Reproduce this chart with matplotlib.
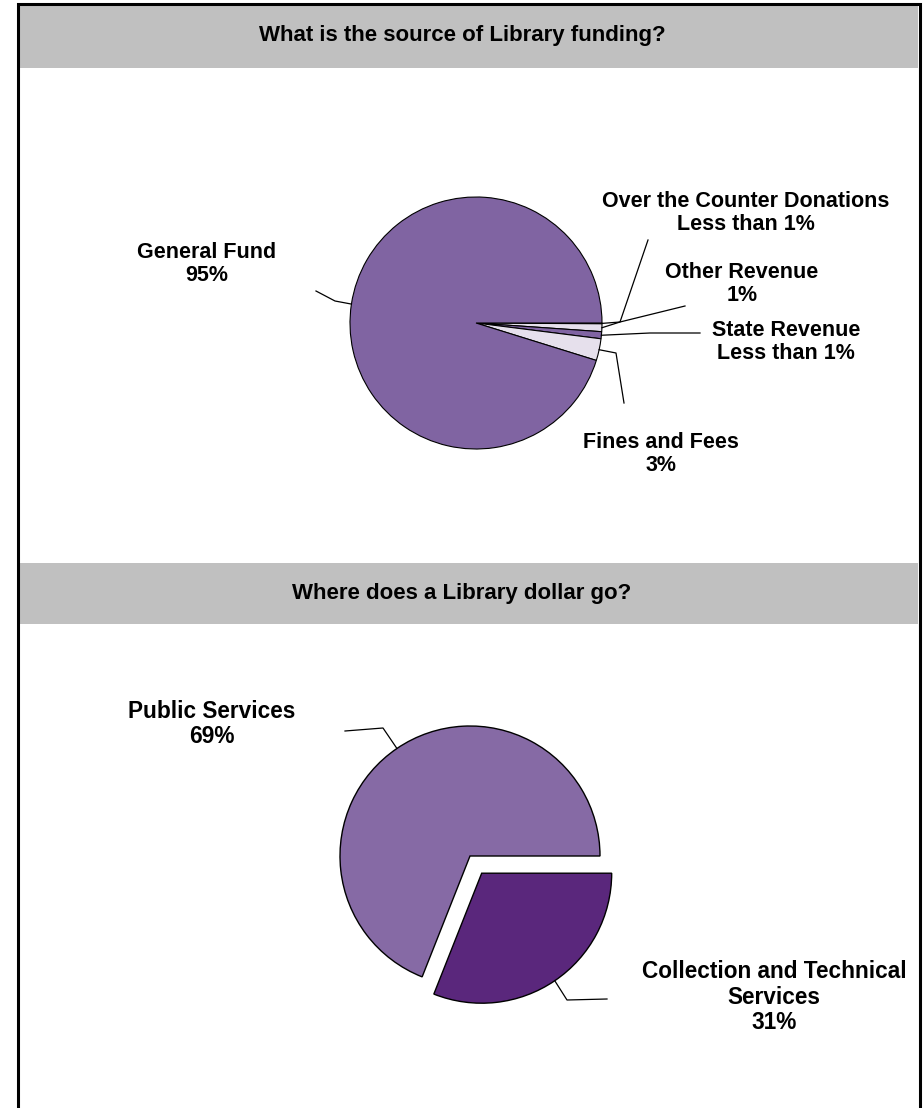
import numpy as np
import matplotlib
matplotlib.use('Agg')
import matplotlib.pyplot as plt
from matplotlib.patches import Rectangle

plt.rcParams['font.family'] = ['Liberation Sans', 'DejaVu Sans']

# funding sources, clockwise from 3 o'clock
src_names = ['Over the Counter Donations', 'Other Revenue', 'State Revenue',
             'Fines and Fees', 'General Fund']
src_share = [0.1, 1.0, 0.9, 2.8, 95.2]
src_text = ['Less than 1%', '1%', 'Less than 1%', '3%', '95%']

# spending, counter-clockwise from 3 o'clock
use_names = ['Public Services', 'Collection and Technical\nServices']
use_share = [69, 31]
use_text = ['69%', '31%']

W, H = 923, 1108


def Y(py):
    # page pixels measured from the top
    return H - py


fig = plt.figure(figsize=(W / 100, H / 100), dpi=100)
ax = fig.add_axes([0, 0, 1, 1])

# header bands and outer frame
for top, bot in [(5, 68), (563, 624)]:
    ax.add_patch(Rectangle((19, Y(bot)), 899, bot - top, fc='#c0c0c0', ec='none'))
ax.plot([17.5, 17.5, 919.5, 919.5], [Y(1108), Y(3.5), Y(3.5), Y(1108)],
        color='black', lw=2.2, solid_joinstyle='miter')

ax.text(462, Y(36), 'What is the source of Library funding?', ha='center', va='center',
        fontsize=16, fontweight='bold')
ax.text(462, Y(594), 'Where does a Library dollar go?', ha='center', va='center',
        fontsize=16, fontweight='bold')

# top pie
w1, _ = ax.pie(src_share, colors=['#d9d2e6', '#e6e0ec', '#8064a2', '#e6e0ec', '#8064a2'],
               startangle=0, counterclock=False, center=(476, Y(323)), radius=126,
               wedgeprops=dict(edgecolor='black', linewidth=0.8), frame=True)

# bottom pie, collection slice pulled out (explode is in data units here)
r2 = 130
w2, _ = ax.pie(use_share, colors=['#866aa5', '#5a277c'], startangle=0, counterclock=True,
               explode=[0, 0.16 * r2], center=(470, Y(856)), radius=r2,
               wedgeprops=dict(edgecolor='black', linewidth=1.0), frame=True)


def edge_point(w):
    a = np.deg2rad((w.theta1 + w.theta2) / 2)
    cx, cy = w.center
    return cx + w.r * np.cos(a), cy + w.r * np.sin(a)


# leader elbows (page px) and label centres
src_lead = [[(620, 322), (648, 240)],
            [(620, 322), (685, 306)],
            [(650, 333), (700, 333)],
            [(616, 353), (624, 403)],
            [(335, 301), (316, 291)]]
src_pos = [(746, 213), (742, 284), (786, 342), (661, 454), (207, 264)]

use_lead = [[(383, 728), (345, 731)],
            [(567, 1000), (607, 999)]]
use_pos = [(212, 724), (774, 997)]

for wedges, leads, pos, names, txt, fs in [(w1, src_lead, src_pos, src_names, src_text, 15.5),
                                           (w2, use_lead, use_pos, use_names, use_text, 16.3)]:
    for w, ld, p, n, t in zip(wedges, leads, pos, names, txt):
        x0, y0 = edge_point(w)
        xs = [x0] + [q[0] for q in ld]
        ys = [y0] + [Y(q[1]) for q in ld]
        ax.plot(xs, ys, color='black', lw=0.9)
        ax.text(p[0], Y(p[1]), n + '\n' + t, ha='center', va='center',
                fontsize=fs, fontweight='bold', linespacing=1.12)

ax.set_xlim(0, W)
ax.set_ylim(0, H)
ax.set_aspect('equal')
ax.axis('off')

fig.savefig('out.png', dpi=100, facecolor='white')
